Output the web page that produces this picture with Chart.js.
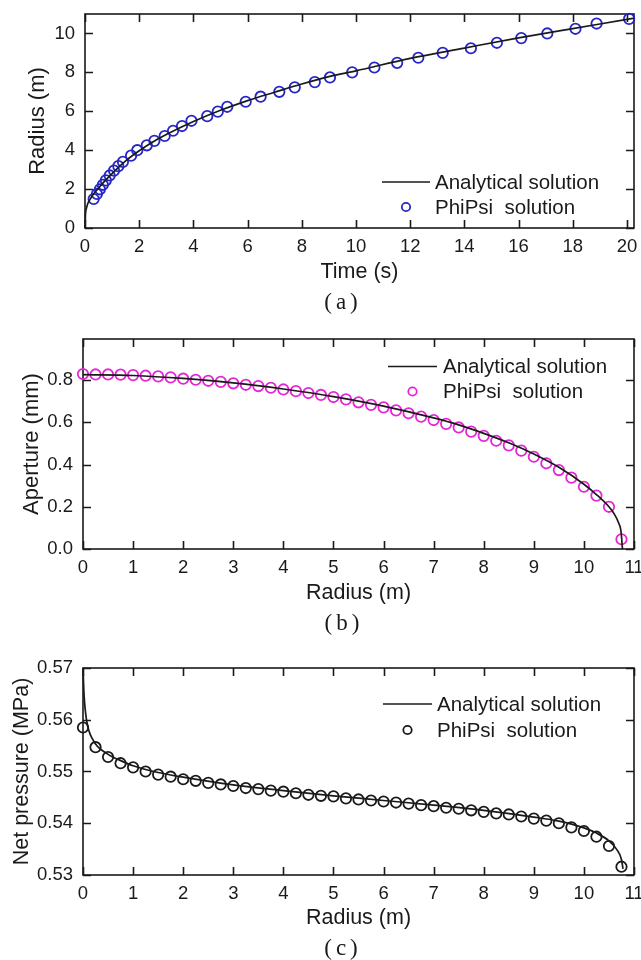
<!DOCTYPE html>
<html>
<head>
<meta charset="utf-8">
<script src="https://cdn.jsdelivr.net/npm/chart.js@4.4.1/dist/chart.umd.min.js"></script>
<style>
  body { margin: 0; background: #fff; }
  canvas { display: block; }
</style>
</head>
<body>
<canvas id="chartA" width="641" height="320"></canvas>
<canvas id="chartB" width="641" height="320"></canvas>
<canvas id="chartC" width="641" height="320"></canvas>
<script>
// ================= DATA (a) radius vs time =================
const timeLine   = [0, 0.02, 0.05, 0.1, 0.2, 0.3, 0.5, 0.75, 1, 1.5, 2, 2.5, 3, 4, 5, 6, 7, 8, 9, 10, 12, 14, 16, 18, 20, 20.25];
const radiusLine = [0, 0.75, 1.0, 1.25, 1.5, 1.72, 2.05, 2.45, 2.8, 3.45, 3.97, 4.42, 4.8, 5.47, 6.05, 6.55, 6.98, 7.4, 7.78, 8.08, 8.72, 9.25, 9.77, 10.25, 10.72, 10.78];
const timePhiPsi   = [0.32, 0.44, 0.55, 0.66, 0.77, 0.91, 1.07, 1.23, 1.4, 1.7, 1.93, 2.28, 2.56, 2.94, 3.25, 3.58, 3.93, 4.51, 4.9, 5.25, 5.93, 6.48, 7.17, 7.74, 8.48, 9.04, 9.86, 10.68, 11.52, 12.3, 13.2, 14.24, 15.2, 16.1, 17.06, 18.1, 18.88, 20.08];
const radiusPhiPsi = [1.49, 1.75, 1.99, 2.22, 2.45, 2.7, 2.95, 3.18, 3.4, 3.72, 4.0, 4.25, 4.48, 4.73, 5.0, 5.24, 5.51, 5.75, 5.98, 6.23, 6.49, 6.75, 7.0, 7.23, 7.5, 7.74, 8.0, 8.25, 8.49, 8.75, 9.0, 9.24, 9.52, 9.76, 10.0, 10.24, 10.51, 10.75];

// ================= DATA (b) aperture vs radius =================
const apRadiusLine = [0, 1, 2, 3, 4, 5, 6, 7, 7.5, 8, 8.5, 9, 9.5, 10, 10.25, 10.5, 10.6, 10.7, 10.74, 10.77];
const apertureLine = [0.826, 0.822, 0.808, 0.787, 0.758, 0.722, 0.677, 0.621, 0.588, 0.548, 0.503, 0.45, 0.387, 0.307, 0.258, 0.2, 0.168, 0.12, 0.085, 0.0];
const apRadiusPhiPsi = [0, 0.25, 0.5, 0.75, 1, 1.25, 1.5, 1.75, 2, 2.25, 2.5, 2.75, 3, 3.25, 3.5, 3.75, 4, 4.25, 4.5, 4.75, 5, 5.25, 5.5, 5.75, 6, 6.25, 6.5, 6.75, 7, 7.25, 7.5, 7.75, 8, 8.25, 8.5, 8.75, 9, 9.25, 9.5, 9.75, 10, 10.25, 10.5, 10.75];
const aperturePhiPsi = [0.829, 0.827, 0.827, 0.826, 0.824, 0.821, 0.818, 0.813, 0.807, 0.802, 0.797, 0.792, 0.785, 0.778, 0.772, 0.764, 0.756, 0.748, 0.739, 0.730, 0.720, 0.709, 0.695, 0.683, 0.671, 0.657, 0.643, 0.627, 0.611, 0.593, 0.576, 0.556, 0.536, 0.513, 0.491, 0.466, 0.437, 0.406, 0.374, 0.338, 0.295, 0.253, 0.200, 0.046];

// ================= DATA (c) net pressure vs radius =================
const prRadiusLine = [0, 0.02, 0.07, 0.2, 0.47, 0.73, 1, 1.5, 2, 3, 4, 5, 6, 7, 8, 9, 9.5, 10, 10.25, 10.5, 10.65, 10.75, 10.78];
const pressureLine = [0.5700, 0.5650, 0.5600, 0.5561, 0.5535, 0.5522, 0.5511, 0.5498, 0.5489, 0.5474, 0.5463, 0.5453, 0.5444, 0.5435, 0.5425, 0.5412, 0.5404, 0.5391, 0.5381, 0.5366, 0.5350, 0.5330, 0.5312];
const prRadiusPhiPsi = [0, 0.25, 0.5, 0.75, 1, 1.25, 1.5, 1.75, 2, 2.25, 2.5, 2.75, 3, 3.25, 3.5, 3.75, 4, 4.25, 4.5, 4.75, 5, 5.25, 5.5, 5.75, 6, 6.25, 6.5, 6.75, 7, 7.25, 7.5, 7.75, 8, 8.25, 8.5, 8.75, 9, 9.25, 9.5, 9.75, 10, 10.25, 10.5, 10.75];
const pressurePhiPsi = [0.5585, 0.5547, 0.5528, 0.5516, 0.5508, 0.5500, 0.5494, 0.5490, 0.5485, 0.5482, 0.5478, 0.5475, 0.5472, 0.5468, 0.5466, 0.5463, 0.5461, 0.5458, 0.5455, 0.5453, 0.5452, 0.5448, 0.5446, 0.5444, 0.5442, 0.5440, 0.5438, 0.5435, 0.5433, 0.5430, 0.5428, 0.5425, 0.5422, 0.5419, 0.5417, 0.5413, 0.5409, 0.5405, 0.5400, 0.5392, 0.5385, 0.5374, 0.5356, 0.5316];

const seriesLabels = ["Analytical solution", "PhiPsi  solution"];

// ================= STYLE =================
const SANS = "'Liberation Sans', Arial, sans-serif";
const SERIF = "'Liberation Serif', 'Times New Roman', serif";
const INK = "#1a1a1a";

const pts = (xs, ys) => xs.map((x, i) => ({ x, y: ys[i] }));

// frame box + inward ticks on all four sides
const frameTicks = {
    id: "frameTicks",
    beforeDatasetsDraw(chart){
        const { ctx, chartArea: a, scales: { x, y } } = chart;
        const len = 8;
        ctx.save();
        ctx.strokeStyle = INK;
        ctx.lineWidth = 1.6;
        ctx.strokeRect(a.left, a.top, a.right - a.left, a.bottom - a.top);
        ctx.beginPath();
        x.ticks.forEach(t => {
            const px = Math.round(x.getPixelForValue(t.value)) + 0.5;
            ctx.moveTo(px, a.bottom); ctx.lineTo(px, a.bottom - len);
            ctx.moveTo(px, a.top);    ctx.lineTo(px, a.top + len);
        });
        y.ticks.forEach(t => {
            const py = Math.round(y.getPixelForValue(t.value)) + 0.5;
            ctx.moveTo(a.left, py);  ctx.lineTo(a.left + len, py);
            ctx.moveTo(a.right, py); ctx.lineTo(a.right - len, py);
        });
        ctx.stroke();
        ctx.restore();
    }
};

// legend box drawn inside the plot
const boxLegend = {
    id: "boxLegend",
    afterDraw(chart, args, o){
        const ctx = chart.ctx;
        const [lineDs, dotDs] = chart.data.datasets;
        const textX = o.x + o.len + o.gap;
        ctx.save();
        ctx.font = "20.5px " + SANS;
        ctx.fillStyle = INK;
        ctx.textBaseline = "middle";
        ctx.textAlign = "left";

        ctx.strokeStyle = lineDs.borderColor;
        ctx.lineWidth = lineDs.borderWidth;
        ctx.beginPath();
        ctx.moveTo(o.x, o.y); ctx.lineTo(o.x + o.len, o.y);
        ctx.stroke();
        ctx.fillText(lineDs.label, textX, o.y + 1);

        const cy = o.y + o.row;
        ctx.strokeStyle = dotDs.borderColor;
        ctx.lineWidth = dotDs.borderWidth;
        ctx.beginPath();
        ctx.arc(o.x + o.len / 2, cy, 4.2, 0, Math.PI * 2);
        ctx.stroke();
        ctx.fillText(dotDs.label, textX, cy + 1);
        ctx.restore();
    }
};

// sub-figure caption "(a)" etc
const caption = {
    id: "caption",
    afterDraw(chart, args, o){
        const ctx = chart.ctx;
        ctx.save();
        ctx.font = "23px " + SERIF;
        ctx.fillStyle = INK;
        ctx.textAlign = "center";
        ctx.textBaseline = "middle";
        ctx.letterSpacing = "4px";
        ctx.fillText(o.text, o.x + 2, o.y);
        ctx.restore();
    }
};

function makeChart(id, c){
    return new Chart(document.getElementById(id), {
        type: "scatter",
        data: {
            datasets: [
                {
                    label: seriesLabels[0],
                    data: c.line,
                    showLine: true,
                    borderColor: INK,
                    borderWidth: 1.7,
                    pointRadius: 0,
                    cubicInterpolationMode: "monotone",
                    clip: false
                },
                {
                    label: seriesLabels[1],
                    data: c.dots,
                    borderColor: c.dotColor,
                    backgroundColor: "rgba(0,0,0,0)",
                    borderWidth: 1.8,
                    pointRadius: 5.2,
                    pointHoverRadius: 5.2,
                    clip: false
                }
            ]
        },
        options: {
            responsive: false,
            animation: false,
            layout: { padding: { top: c.top, right: 7, bottom: c.bottomPad, left: 0 } },
            plugins: {
                legend: { display: false },
                tooltip: { enabled: false },
                boxLegend: c.legend,
                caption: c.caption
            },
            scales: {
                x: {
                    type: "linear",
                    min: 0,
                    max: c.xMax,
                    grid: { display: false, drawTicks: false, tickLength: 0 },
                    border: { display: false },
                    ticks: {
                        stepSize: c.xStep,
                        includeBounds: false,
                        autoSkip: false,
                        maxRotation: 0,
                        padding: 8,
                        color: INK,
                        font: { family: SANS, size: 18.5 }
                    },
                    title: {
                        display: true,
                        text: c.xTitle,
                        color: INK,
                        font: { family: SANS, size: 21.5 },
                        padding: { top: 0, bottom: c.xTitlePad }
                    },
                    afterFit(s){ s.height = 60; s.paddingLeft = 0; s.paddingRight = 0; }
                },
                y: {
                    type: "linear",
                    min: c.yMin,
                    max: c.yMax,
                    grid: { display: false, drawTicks: false, tickLength: 0 },
                    border: { display: false },
                    ticks: {
                        stepSize: c.yStep,
                        includeBounds: false,
                        autoSkip: false,
                        padding: 10,
                        color: INK,
                        font: { family: SANS, size: 18.5 },
                        callback: v => v.toFixed(c.yDigits)
                    },
                    title: {
                        display: true,
                        text: c.yTitle,
                        color: INK,
                        font: { family: SANS, size: c.yTitleSize },
                        padding: { top: c.yTitlePad, bottom: 0 }
                    },
                    afterFit(s){ s.width = c.left; s.paddingTop = 0; s.paddingBottom = 0; }
                }
            }
        },
        plugins: [frameTicks, boxLegend, caption]
    });
}

// ================= (a) =================
makeChart("chartA", {
    line: pts(timeLine, radiusLine),
    dots: pts(timePhiPsi, radiusPhiPsi),
    dotColor: "#2626c8",
    xMax: 20.26, xStep: 2, xTitle: "Time (s)", xTitlePad: 3.4,
    yMin: 0, yMax: 11, yStep: 2, yDigits: 0, yTitle: "Radius (m)", yTitleSize: 22, yTitlePad: 25,
    left: 85, top: 14, bottomPad: 32,
    legend: { x: 382, y: 182, len: 48, gap: 5, row: 25 },
    caption: { text: "(a)", x: 341, y: 303 }
});

// ================= (b) =================
makeChart("chartB", {
    line: pts(apRadiusLine, apertureLine),
    dots: pts(apRadiusPhiPsi, aperturePhiPsi),
    dotColor: "#e426d6",
    xMax: 11, xStep: 1, xTitle: "Radius (m)", xTitlePad: 3.4,
    yMin: 0, yMax: 0.995, yStep: 0.2, yDigits: 1, yTitle: "Aperture (mm)", yTitleSize: 22, yTitlePad: 19,
    left: 83, top: 19, bottomPad: 31,
    legend: { x: 388, y: 46.5, len: 49, gap: 6, row: 25 },
    caption: { text: "(b)", x: 342, y: 304 }
});

// ================= (c) =================
makeChart("chartC", {
    line: pts(prRadiusLine, pressureLine),
    dots: pts(prRadiusPhiPsi, pressurePhiPsi),
    dotColor: "#1a1a1a",
    xMax: 11, xStep: 1, xTitle: "Radius (m)", xTitlePad: 4.4,
    yMin: 0.53, yMax: 0.57, yStep: 0.01, yDigits: 2, yTitle: "Net pressure (MPa)", yTitleSize: 21.5, yTitlePad: 9.6,
    left: 83, top: 28, bottomPad: 25,
    legend: { x: 383, y: 64, len: 49, gap: 5, row: 26 },
    caption: { text: "(c)", x: 341, y: 309 }
});
</script>
</body>
</html>
